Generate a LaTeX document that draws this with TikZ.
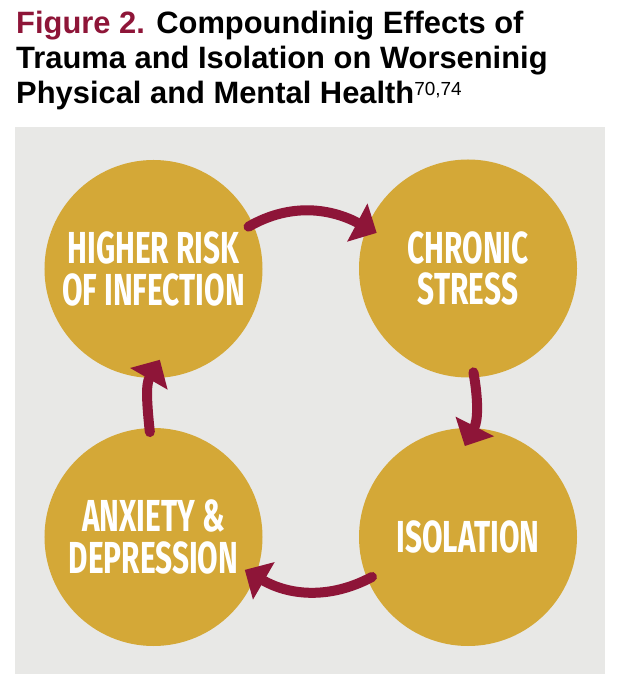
\documentclass[tikz,border=0pt]{standalone}
\usepackage{fontspec}
\setmainfont{Liberation Sans}
\newfontfamily\dinfont{Fira Sans}[FakeStretch=0.665]
\usetikzlibrary{arrows.meta}
\definecolor{gold}{HTML}{D4A837}
\definecolor{bggray}{HTML}{E8E8E6}
\definecolor{maroon}{HTML}{8E1538}
\begin{document}
\begin{tikzpicture}[x=1bp,y=1bp,
  stage/.style={circle, fill=gold, minimum size=218bp, inner sep=0pt, text=white, align=center,
    font=\dinfont\bfseries\fontsize{45}{42}\selectfont},
  cyc/.style={draw=maroon, line width=10bp, line cap=round, -{Triangle[length=22bp,width=42bp]}},
  titleline/.style={anchor=base west, inner sep=0pt, font=\bfseries\fontsize{31}{35}\selectfont}
]
\useasboundingbox (0,0) rectangle (620,688);
\fill[bggray] (15,14) rectangle (605,561);

\node[titleline] (t1) at (16,654) {\textcolor{maroon}{Figure 2.} Compoundinig Effects of};
\node[titleline] (t2) at (16,619) {Trauma and Isolation on Worseninig};
\node[titleline] (t3) at (16,584) {Physical and Mental Health\raisebox{8bp}{\normalfont\fontsize{19}{19}\selectfont 70,74}};

\node[stage] (A) at (153.5,419) {HIGHER RISK\\OF INFECTION};
\node[stage] (B) at (468,419.5) {CHRONIC\\STRESS};
\node[stage] (C) at (468,151) {ISOLATION};
\node[stage] (D) at (153.5,151) {ANXIETY \&\\DEPRESSION};

\draw[cyc] ([shift={(24:104bp)}]A.center) to[out=30,in=152] ([shift={(158.7:98bp)}]B.center);
\draw[cyc] ([shift={(-87:104bp)}]B.center) to[out=-80,in=63] ([shift={(92:91bp)}]C.center);
\draw[cyc] ([shift={(202.6:104bp)}]C.center) to[out=208,in=-30] ([shift={(-19.8:97bp)}]D.center);
\draw[cyc] ([shift={(92:105bp)}]D.center) to[out=96,in=240] ([shift={(-86:91bp)}]A.center);
\end{tikzpicture}
\end{document}
